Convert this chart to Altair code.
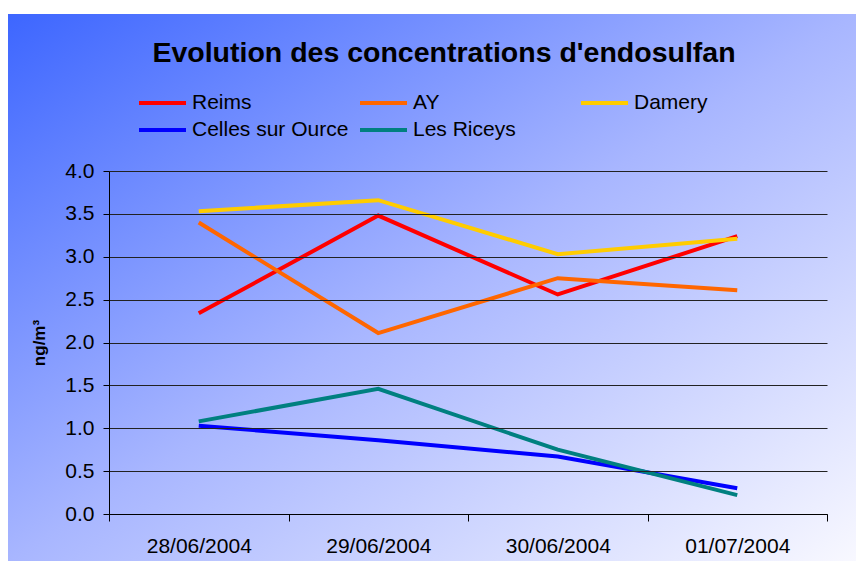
import altair as alt
import pandas as pd

dates = ["28/06/2004", "29/06/2004", "30/06/2004", "01/07/2004"]
series = ["Reims", "AY", "Damery", "Celles sur Ource", "Les Riceys"]
reims = [2.34, 3.48, 2.56, 3.24]
ay = [3.40, 2.11, 2.75, 2.61]
damery = [3.53, 3.66, 3.03, 3.21]
celles = [1.03, 0.86, 0.67, 0.30]
riceys = [1.08, 1.46, 0.75, 0.22]
colors = ["#FF0000", "#FF6600", "#FFCC00", "#0000FF", "#008080"]
y_ticks = [0.0, 0.5, 1.0, 1.5, 2.0, 2.5, 3.0, 3.5, 4.0]

rows = []
for name, vals in zip(series, [reims, ay, damery, celles, riceys]):
    for d, v in zip(dates, vals):
        rows.append({"date": d, "site": name, "value": v})
df = pd.DataFrame(rows)

FONT = "Liberation Sans"
W, H = 718, 343
PL, PT, PR, PB = 101, 163, 29, 47

bg = alt.Chart(pd.DataFrame({"k": [0]})).mark_rect(
    fill=alt.Gradient(
        gradient="linear",
        stops=[
            alt.GradientStop(color="#3D66FF", offset=0),
            alt.GradientStop(color="#A8B6FF", offset=0.5),
            alt.GradientStop(color="#F8F8FF", offset=1),
        ],
        x1=0, y1=0, x2=1, y2=1,
    )
).encode(
    x=alt.value(-PL), x2=alt.value(W + PR),
    y=alt.value(-PT + 6), y2=alt.value(H + PB),
)

lines = alt.Chart(df).mark_line(strokeWidth=4, strokeCap="butt", strokeJoin="miter").encode(
    x=alt.X(
        "date:N", sort=dates, bandPosition=0.5,
        scale=alt.Scale(type="band", paddingInner=0, paddingOuter=0),
        axis=alt.Axis(
            title=None, labelAngle=0, labelFont=FONT, labelFontSize=21, labelColor="black",
            domainColor="black", tickColor="black", tickSize=7, labelPadding=14,
            tickBand="extent", grid=False, zindex=1,
        ),
    ),
    y=alt.Y(
        "value:Q",
        scale=alt.Scale(domain=[0, 4], nice=False),
        axis=alt.Axis(
            values=y_ticks, format=".1f", title="ng/m³",
            titleFont=FONT, titleFontSize=17, titleFontWeight="bold", titleColor="black",
            titleX=-70, titleBaseline="middle", titleAngle=270,
            labelFont=FONT, labelFontSize=21, labelColor="black", labelPadding=9,
            domainColor="black", tickColor="black", tickSize=6,
            grid=True, gridColor="#222222", gridWidth=1, gridOpacity=1, zindex=1,
        ),
    ),
    color=alt.Color(
        "site:N", sort=series,
        scale=alt.Scale(domain=series, range=colors),
        legend=alt.Legend(
            title=None, orient="none", legendX=28, legendY=-78, columns=3,
            direction="horizontal",
            symbolType="stroke", symbolSize=2209, symbolStrokeWidth=4,
            labelFont=FONT, labelFontSize=21, labelColor="black", labelOffset=4,
            gridAlign="all", columnPadding=9, rowPadding=6, clipHeight=20, padding=0,
        ),
    ),
)

chart = alt.layer(bg, lines).properties(
    width=W, height=H,
    title=alt.TitleParams(
        "Evolution des concentrations d'endosulfan",
        font=FONT, fontSize=28.5, fontWeight="bold", color="black",
        anchor="middle", dx=-24, offset=-53,
    ),
    padding={"left": PL, "top": PT, "right": PR, "bottom": PB},
    autosize=alt.AutoSizeParams(type="none"),
).configure_view(stroke=None)

chart.save("out.html", embed_options={"renderer": "svg", "actions": False})
